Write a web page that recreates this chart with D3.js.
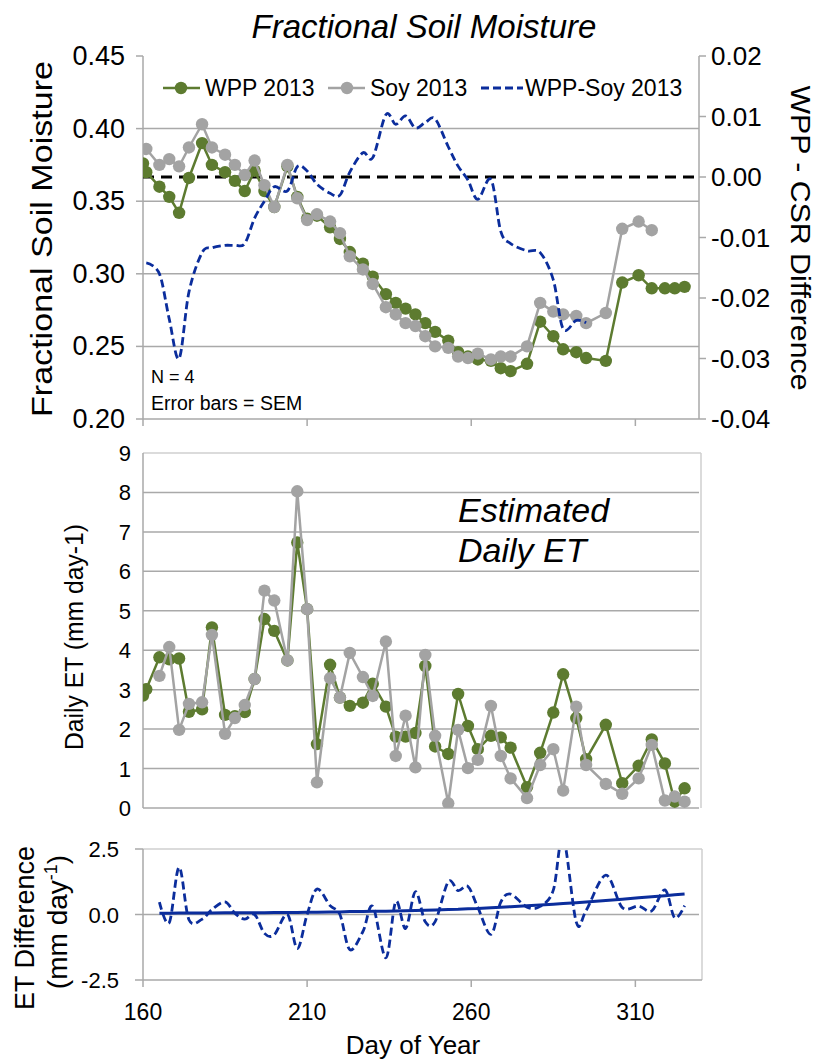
<!DOCTYPE html>
<html>
<head>
<meta charset="utf-8">
<script src="https://cdn.jsdelivr.net/npm/d3@7"></script>
<style>
  body { margin: 0; background: #fff; }
  svg { font-family: "Liberation Sans", Arial, sans-serif; }
</style>
</head>
<body>
<svg width="819" height="1059"></svg>
<script>
"use strict";

// sampling days (day of year)
var days = [160, 161, 165, 168, 171, 174, 178, 181, 185, 188, 191, 194, 197, 200, 204, 207, 210,
  213, 217, 220, 223, 227, 230, 234, 237, 240, 243, 246, 249, 253, 256, 259, 262, 266, 269, 272,
  277, 281, 285, 288, 292, 295, 301, 306, 311, 315, 319, 322, 325];

// fractional soil moisture
var smWpp = [0.376, 0.370, 0.360, 0.353, 0.342, 0.366, 0.390, 0.375, 0.370, 0.364, 0.357, 0.371,
  0.357, 0.346, 0.374, 0.353, 0.338, 0.340, 0.332, 0.324, 0.315, 0.307, 0.298, 0.286, 0.280, 0.276,
  0.272, 0.266, 0.260, 0.254, 0.246, 0.243, 0.241, 0.240, 0.235, 0.233, 0.238, 0.267, 0.257, 0.248,
  0.246, 0.242, 0.240, 0.294, 0.299, 0.290, 0.290, 0.290, 0.291];
var smSoy = [null, 0.386, 0.375, 0.379, 0.374, 0.387, 0.403, 0.387, 0.382, 0.375, 0.368, 0.378,
  0.361, 0.346, 0.375, 0.352, 0.337, 0.341, 0.336, 0.328, 0.312, 0.303, 0.293, 0.277, 0.272, 0.266,
  0.264, 0.257, 0.250, 0.249, 0.243, 0.242, 0.245, 0.241, 0.243, 0.243, 0.250, 0.280, 0.274, 0.272,
  0.271, 0.266, 0.273, 0.331, 0.336, 0.330, null, null, null];
// WPP - Soy difference (right axis)
var smDiff = [null, -0.0142, -0.0160, -0.0235, -0.0300, -0.0190, -0.0125, -0.0117, -0.0113, -0.0113,
  -0.0110, -0.0068, -0.0040, -0.0016, -0.0023, 0.0017, 0.0010, -0.0012, -0.0027, -0.0030, 0.0008,
  0.0040, 0.0032, 0.0103, 0.0087, 0.0101, 0.0081, 0.0090, 0.0096, 0.0050, 0.0018, -0.0005, -0.0037,
  -0.0004, -0.0090, -0.0110, -0.0122, -0.0125, -0.0170, -0.0251, -0.0237, -0.0241,
  null, null, null, null, null, null, null];

// daily ET (mm day-1)
var etWpp = [2.85, 3.01, 3.82, 3.77, 3.79, 2.44, 2.50, 4.58, 2.36, 2.33, 2.43, 3.27, 4.79, 4.49,
  3.74, 6.73, 5.04, 1.62, 3.63, 2.80, 2.59, 2.67, 3.15, 2.57, 1.81, 1.81, 1.90, 3.60, 1.56, 1.37,
  2.89, 2.08, 1.49, 1.83, 1.79, 1.53, 0.53, 1.40, 2.42, 3.39, 2.28, 1.24, 2.11, 0.63, 1.07, 1.74,
  1.13, 0.16, 0.50];
var etSoy = [null, null, 3.35, 4.08, 1.98, 2.64, 2.68, 4.39, 1.88, 2.28, 2.61, 3.27, 5.51, 5.26,
  3.74, 8.03, 5.04, 0.65, 3.29, 2.80, 3.93, 3.32, 2.84, 4.22, 1.32, 2.34, 1.03, 3.88, 1.83, 0.12,
  1.98, 1.01, 1.22, 2.59, 1.32, 0.75, 0.25, 1.09, 1.49, 0.44, 2.57, 1.09, 0.61, 0.36, 0.75, 1.60,
  0.19, 0.29, 0.16];
// ET difference
var etDiff = [null, null, 0.47, -0.31, 1.80, -0.20, -0.18, 0.19, 0.48, 0.05, -0.18, 0.00, -0.72,
  -0.77, 0.00, -1.30, 0.00, 0.97, 0.34, 0.00, -1.34, -0.65, 0.31, -1.65, 0.49, -0.53, 0.87, -0.28,
  -0.27, 1.25, 0.91, 1.07, 0.27, -0.76, 0.47, 0.78, 0.28, 0.31, 0.93, 2.95, -0.29, 0.15, 1.50,
  0.27, 0.32, 0.14, 0.94, -0.13, 0.34];
var etTrend = [null, null, 0.05, 0.05, 0.06, 0.06, 0.06, 0.06, 0.07, 0.07, 0.07, 0.07, 0.07, 0.08,
  0.08, 0.08, 0.09, 0.09, 0.10, 0.10, 0.11, 0.11, 0.12, 0.12, 0.13, 0.14, 0.15, 0.16, 0.17, 0.19,
  0.20, 0.22, 0.23, 0.26, 0.28, 0.30, 0.33, 0.36, 0.39, 0.42, 0.45, 0.48, 0.53, 0.58, 0.64, 0.68,
  0.72, 0.75, 0.78];

var xTicks = [160, 210, 260, 310];
var smTicks = [0.20, 0.25, 0.30, 0.35, 0.40, 0.45];
var diffTicks = [-0.04, -0.03, -0.02, -0.01, 0.00, 0.01, 0.02];
var etTicks = [0, 1, 2, 3, 4, 5, 6, 7, 8, 9];
var etDiffTicks = [-2.5, 0.0, 2.5];

var GREEN = "#5d7b30", GREY = "#a3a3a3", BLUE = "#0b2d9c", GRID = "#a9a9a9", FRAME = "#cfcfcf";

var svg = d3.select("svg");
var x = d3.scaleLinear().domain([160, 330]).range([143, 701]);
var L = 143, R = 699;

var ySm = d3.scaleLinear().domain([0.20, 0.45]).range([419, 56]);
var yDiff = d3.scaleLinear().domain([-0.04, 0.02]).range([419, 56]);
var yEt = d3.scaleLinear().domain([0, 9]).range([808, 453]);
var yEtD = d3.scaleLinear().domain([-2.5, 2.5]).range([980, 849]);

function clip(id, y0, y1) {
  svg.append("clipPath").attr("id", id).append("rect")
    .attr("x", L).attr("y", y0).attr("width", 701 - L).attr("height", y1 - y0);
}
clip("cTop", 56, 419);
clip("cMid", 453, 808);
clip("cBot", 849, 980);

function pts(vals) {
  return days.map(function (d, i) { return { d: d, v: vals[i] }; });
}
function drawLine(g, vals, yS, color, width, dash, curve) {
  var line = d3.line()
    .defined(function (p) { return p.v != null; })
    .x(function (p) { return x(p.d); })
    .y(function (p) { return yS(p.v); })
    .curve(curve || d3.curveLinear);
  g.append("path").datum(pts(vals))
    .attr("d", line).attr("fill", "none")
    .attr("stroke", color).attr("stroke-width", width)
    .attr("stroke-dasharray", dash || null);
}
function drawDots(g, vals, yS, color) {
  g.selectAll(null).data(pts(vals).filter(function (p) { return p.v != null; }))
    .enter().append("circle")
    .attr("cx", function (p) { return x(p.d); })
    .attr("cy", function (p) { return yS(p.v); })
    .attr("r", 6.2).attr("fill", color);
}
function grid(yS, ticks) {
  svg.append("g").selectAll("line").data(ticks).enter().append("line")
    .attr("x1", L).attr("x2", R).attr("y1", yS).attr("y2", yS)
    .attr("stroke", GRID).attr("stroke-width", 1.5);
}
function leftLabels(yS, ticks, xr, size, fmt, dy) {
  svg.append("g").selectAll("text").data(ticks).enter().append("text")
    .attr("x", xr).attr("y", function (t) { return yS(t) + dy; })
    .attr("text-anchor", "end").attr("font-size", size)
    .text(fmt);
}
function vtitle(txt, cx, cy, size, rot, len) {
  return svg.append("text")
    .attr("transform", "translate(" + cx + "," + cy + ") rotate(" + rot + ")")
    .attr("text-anchor", "middle").attr("font-size", size)
    .attr("textLength", len).attr("lengthAdjust", "spacingAndGlyphs")
    .text(txt);
}

// ---------- top panel ----------
grid(ySm, [0.25, 0.30, 0.35, 0.40]);
svg.append("line").attr("x1", L).attr("x2", R).attr("y1", 419).attr("y2", 419)
  .attr("stroke", GRID).attr("stroke-width", 1.5);
svg.append("line").attr("x1", L).attr("x2", L).attr("y1", 56).attr("y2", 419)
  .attr("stroke", GRID).attr("stroke-width", 1.5);
svg.append("line").attr("x1", R).attr("x2", R).attr("y1", 56).attr("y2", 419)
  .attr("stroke", GRID).attr("stroke-width", 1.5);
svg.append("g").selectAll("line").data(smTicks).enter().append("line")
  .attr("x1", L - 7).attr("x2", L).attr("y1", ySm).attr("y2", ySm)
  .attr("stroke", GRID).attr("stroke-width", 1.5);
svg.append("g").selectAll("line").data(diffTicks).enter().append("line")
  .attr("x1", R).attr("x2", R + 7).attr("y1", yDiff).attr("y2", yDiff)
  .attr("stroke", GRID).attr("stroke-width", 1.5);
svg.append("g").selectAll("line").data(xTicks).enter().append("line")
  .attr("x1", x).attr("x2", x).attr("y1", 419).attr("y2", 426)
  .attr("stroke", GRID).attr("stroke-width", 1.5);

leftLabels(ySm, smTicks, 125, 27, d3.format(".2f"), 9);
svg.append("g").selectAll("text").data(diffTicks).enter().append("text")
  .attr("x", 711).attr("y", function (t) { return yDiff(t) + 9; })
  .attr("font-size", 26)
  .text(function (t) { return d3.format(".2f")(t).replace("−", "-"); });

var gTop = svg.append("g").attr("clip-path", "url(#cTop)");
gTop.append("line").attr("x1", L).attr("x2", R).attr("y1", yDiff(0)).attr("y2", yDiff(0))
  .attr("stroke", "#000").attr("stroke-width", 3).attr("stroke-dasharray", "11,7");
drawLine(gTop, smWpp, ySm, GREEN, 2.5);
drawDots(gTop, smWpp, ySm, GREEN);
drawLine(gTop, smSoy, ySm, GREY, 2.5);
drawDots(gTop, smSoy, ySm, GREY);
drawLine(gTop, smDiff, yDiff, BLUE, 2.8, "8,4", d3.curveCardinal.tension(0));

svg.append("text").attr("x", 424).attr("y", 38).attr("text-anchor", "middle")
  .attr("font-size", 33).attr("font-style", "italic").text("Fractional Soil Moisture");
vtitle("Fractional Soil Moisture", 52, 239, 30, -90, 356);
vtitle("WPP - CSR Difference", 791, 238, 28, 90, 305);

// legend
var lg = svg.append("g");
lg.append("line").attr("x1", 163).attr("x2", 200).attr("y1", 88).attr("y2", 88)
  .attr("stroke", GREEN).attr("stroke-width", 2.5);
lg.append("circle").attr("cx", 181).attr("cy", 88).attr("r", 6.2).attr("fill", GREEN);
lg.append("text").attr("x", 205).attr("y", 96).attr("font-size", 23).text("WPP 2013");
lg.append("line").attr("x1", 328).attr("x2", 365).attr("y1", 88).attr("y2", 88)
  .attr("stroke", GREY).attr("stroke-width", 2.5);
lg.append("circle").attr("cx", 347).attr("cy", 88).attr("r", 6.2).attr("fill", GREY);
lg.append("text").attr("x", 370).attr("y", 96).attr("font-size", 23).text("Soy 2013");
lg.append("line").attr("x1", 481).attr("x2", 523).attr("y1", 88).attr("y2", 88)
  .attr("stroke", BLUE).attr("stroke-width", 2.8).attr("stroke-dasharray", "8,4");
lg.append("text").attr("x", 525).attr("y", 96).attr("font-size", 23).text("WPP-Soy 2013");

svg.append("text").attr("x", 151).attr("y", 383).attr("font-size", 18).text("N = 4");
svg.append("text").attr("x", 151).attr("y", 410).attr("font-size", 19.5).text("Error bars = SEM");

// ---------- middle panel ----------
grid(yEt, [1, 2, 3, 4, 5, 6, 7, 8, 0]);
svg.append("line").attr("x1", L).attr("x2", 701).attr("y1", 453).attr("y2", 453)
  .attr("stroke", FRAME).attr("stroke-width", 1.5);
svg.append("line").attr("x1", 701).attr("x2", 701).attr("y1", 453).attr("y2", 808)
  .attr("stroke", FRAME).attr("stroke-width", 1.5);
svg.append("line").attr("x1", L).attr("x2", L).attr("y1", 453).attr("y2", 808)
  .attr("stroke", GRID).attr("stroke-width", 1.5);
leftLabels(yEt, etTicks, 131, 22, d3.format("d"), 8);

var gMid = svg.append("g").attr("clip-path", "url(#cMid)");
drawLine(gMid, etWpp, yEt, GREEN, 2.5);
drawDots(gMid, etWpp, yEt, GREEN);
drawLine(gMid, etSoy, yEt, GREY, 2.5);
drawDots(gMid, etSoy, yEt, GREY);

svg.append("text").attr("x", 458).attr("y", 522).attr("font-size", 34)
  .attr("font-style", "italic").text("Estimated");
svg.append("text").attr("x", 458).attr("y", 562).attr("font-size", 34)
  .attr("font-style", "italic").text("Daily ET");
vtitle("Daily ET (mm day-1)", 83, 637, 25, -90, 226);

// ---------- bottom panel ----------
svg.append("line").attr("x1", L).attr("x2", 702).attr("y1", 849).attr("y2", 849)
  .attr("stroke", FRAME).attr("stroke-width", 1.5);
svg.append("line").attr("x1", 702).attr("x2", 702).attr("y1", 849).attr("y2", 980)
  .attr("stroke", FRAME).attr("stroke-width", 1.5);
svg.append("line").attr("x1", L).attr("x2", 702).attr("y1", 980).attr("y2", 980)
  .attr("stroke", GRID).attr("stroke-width", 1.5);
svg.append("line").attr("x1", L).attr("x2", R).attr("y1", yEtD(0)).attr("y2", yEtD(0))
  .attr("stroke", GRID).attr("stroke-width", 1.5);
svg.append("line").attr("x1", L).attr("x2", L).attr("y1", 849).attr("y2", 980)
  .attr("stroke", GRID).attr("stroke-width", 1.5);
svg.append("g").selectAll("line").data(etDiffTicks).enter().append("line")
  .attr("x1", L - 8).attr("x2", L).attr("y1", yEtD).attr("y2", yEtD)
  .attr("stroke", GRID).attr("stroke-width", 1.5);
svg.append("g").selectAll("line").data(xTicks).enter().append("line")
  .attr("x1", x).attr("x2", x).attr("y1", 980).attr("y2", 987)
  .attr("stroke", GRID).attr("stroke-width", 1.5);
leftLabels(yEtD, etDiffTicks, 119, 22, function (t) { return d3.format(".1f")(t).replace("−", "-"); }, 8);

var gBot = svg.append("g").attr("clip-path", "url(#cBot)");
drawLine(gBot, etTrend, yEtD, BLUE, 3);
drawLine(gBot, etDiff, yEtD, BLUE, 2.8, "8,4", d3.curveCardinal.tension(0));

svg.append("text")
  .attr("transform", "translate(34,928) rotate(-90)")
  .attr("text-anchor", "middle").attr("font-size", 27).text("ET Difference");
var t2 = svg.append("text")
  .attr("transform", "translate(67,922) rotate(-90)")
  .attr("text-anchor", "middle").attr("font-size", 28);
t2.append("tspan").text("(mm day");
t2.append("tspan").attr("font-size", 18).attr("dy", -10).text("-1");
t2.append("tspan").attr("dy", 10).text(")");

svg.append("g").selectAll("text").data(xTicks).enter().append("text")
  .attr("x", x).attr("y", 1020).attr("text-anchor", "middle").attr("font-size", 23)
  .text(function (t) { return t; });
svg.append("text").attr("x", 413).attr("y", 1054).attr("text-anchor", "middle")
  .attr("font-size", 26).text("Day of Year");
</script>
</body>
</html>
